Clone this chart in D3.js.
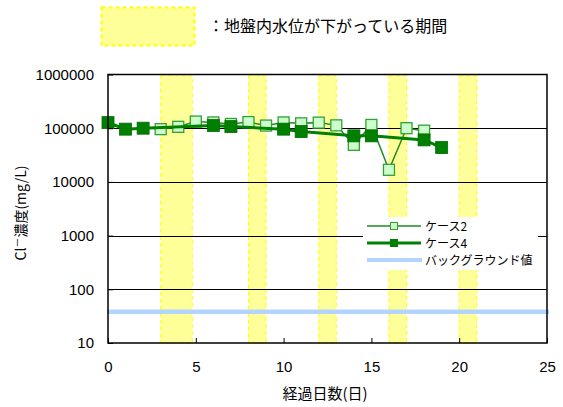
<!DOCTYPE html>
<html>
<head>
<meta charset="utf-8">
<script src="https://cdn.jsdelivr.net/npm/d3@7"></script>
<style>
  html, body { margin: 0; padding: 0; background: #fff; }
  svg { display: block; font-family: "Liberation Sans", "Noto Sans CJK JP", sans-serif; }
</style>
</head>
<body>
<svg id="chart" width="563" height="407"></svg>
<script>
// Periods when the ground water level is falling (days)
const periodStarts = [3, 8, 12, 16, 20];
const periodEnds = [4.8, 9, 13, 17, 21];

// Case 2 measurements
const case2Days = [3, 4, 5, 6, 7, 8, 9, 10, 11, 12, 13, 14, 15, 16, 17, 18];
const case2Values = [96000, 106000, 133000, 128000, 120000, 130000, 112000, 128000, 123000, 127000, 113000, 49000, 115000, 16800, 100000, 90000];

// Case 4 measurements
const case4Days = [0, 1, 2, 6, 7, 10, 11, 14, 15, 18, 19];
const case4Values = [127000, 96000, 100000, 112000, 107000, 96000, 86500, 72000, 72000, 60600, 43600];

// Background concentration
const backgroundValue = 38;

const xTicks = [0, 5, 10, 15, 20, 25];
const yTicks = [10, 100, 1000, 10000, 100000, 1000000];
const seriesNames = ["ケース2", "ケース4", "バックグラウンド値"];

const svg = d3.select("#chart");
const m = { left: 108, top: 74.5, right: 547, bottom: 343 };

const x = d3.scaleLinear().domain([0, 25]).range([m.left, m.right]);
const y = d3.scaleLog().domain([10, 1000000]).range([m.bottom, m.top]);

const jp = '"Noto Sans CJK JP", sans-serif';

// Top legend for the shaded periods
svg.append("rect")
  .attr("x", 101.5).attr("y", 7.5).attr("width", 93).attr("height", 38)
  .attr("fill", "#ffff99").attr("stroke", "#ffff00")
  .attr("stroke-width", 2).attr("stroke-dasharray", "4,3");
svg.append("text")
  .attr("x", 208).attr("y", 32)
  .attr("font-family", jp).attr("font-size", 16).attr("fill", "#000")
  .text("：地盤内水位が下がっている期間");

// Shaded periods
svg.append("g").selectAll("rect")
  .data(periodStarts.map((s, i) => [s, periodEnds[i]]))
  .join("rect")
  .attr("x", d => x(d[0]))
  .attr("y", m.top + 1)
  .attr("width", d => x(d[1]) - x(d[0]))
  .attr("height", m.bottom - m.top - 1)
  .attr("fill", "#ffff99")
  .attr("stroke", "#ffff00")
  .attr("stroke-width", 1)
  .attr("stroke-dasharray", "4,3");

// Horizontal gridlines
svg.append("g").selectAll("line")
  .data(yTicks.slice(1, -1))
  .join("line")
  .attr("x1", m.left).attr("x2", m.right)
  .attr("y1", d => Math.round(y(d)) + 0.5).attr("y2", d => Math.round(y(d)) + 0.5)
  .attr("stroke", "#000").attr("stroke-width", 1);

// Legend box background
const lg = { x: 363, y: 217, w: 175, h: 53 };
svg.append("rect")
  .attr("x", lg.x).attr("y", lg.y).attr("width", lg.w).attr("height", lg.h)
  .attr("fill", "#fff");

// Background value line
svg.append("line")
  .attr("x1", m.left - 1).attr("x2", m.right + 2)
  .attr("y1", y(backgroundValue)).attr("y2", y(backgroundValue))
  .attr("stroke", "#b3d4ff").attr("stroke-width", 4.5);

// Series
const case2 = case2Days.map((d, i) => [d, case2Values[i]]);
const case4 = case4Days.map((d, i) => [d, case4Values[i]]);
const line = d3.line().x(d => x(d[0])).y(d => y(d[1]));

svg.append("path").datum(case2).attr("d", line)
  .attr("fill", "none").attr("stroke", "#228b22").attr("stroke-width", 1.5);
svg.append("g").selectAll("rect")
  .data(case2).join("rect")
  .attr("x", d => x(d[0]) - 5.5).attr("y", d => y(d[1]) - 5.5)
  .attr("width", 11).attr("height", 11)
  .attr("fill", "#ccffcc").attr("stroke", "#33a033").attr("stroke-width", 1.3);

svg.append("path").datum(case4).attr("d", line)
  .attr("fill", "none").attr("stroke", "#008000").attr("stroke-width", 3);
svg.append("g").selectAll("rect")
  .data(case4).join("rect")
  .attr("x", d => x(d[0]) - 6).attr("y", d => y(d[1]) - 6)
  .attr("width", 12).attr("height", 12)
  .attr("fill", "#007f00").attr("stroke", "#006f00").attr("stroke-width", 0.8);

// Plot frame
svg.append("rect")
  .attr("x", m.left).attr("y", m.top)
  .attr("width", m.right - m.left).attr("height", m.bottom - m.top)
  .attr("fill", "none").attr("stroke", "#000").attr("stroke-width", 1.5);

// Axes with inward ticks
const xAxis = d3.axisBottom(x).tickValues(xTicks).tickSize(-5).tickPadding(18).tickFormat(d3.format("d"));
const gx = svg.append("g").attr("transform", `translate(0,${m.bottom})`).call(xAxis);
gx.select(".domain").remove();
gx.selectAll("line").attr("stroke", "#000");
gx.selectAll("text").attr("font-size", 15).attr("fill", "#000");

const yAxis = d3.axisLeft(y).tickValues(yTicks).tickSize(-5).tickPadding(14).tickFormat(d3.format("d"));
const gy = svg.append("g").attr("transform", `translate(${m.left},0)`).call(yAxis);
gy.select(".domain").remove();
gy.selectAll("line").attr("stroke", "#000");
gy.selectAll("text").attr("font-size", 15).attr("fill", "#000");

// Axis titles
svg.append("text")
  .attr("x", 325).attr("y", 399).attr("text-anchor", "middle")
  .attr("font-family", jp).attr("font-size", 15).attr("fill", "#000")
  .text("経過日数(日)");

const yt = svg.append("text")
  .attr("transform", "translate(26,213) rotate(-90)")
  .attr("text-anchor", "middle")
  .attr("font-family", jp).attr("font-size", 14).attr("fill", "#000");
yt.append("tspan").text("Cl");
yt.append("tspan").attr("dy", -5).attr("font-size", 10).text("－");
yt.append("tspan").attr("dy", 5).text("濃度(mg/L)");

// Legend entries
const rows = [lg.y + 9, lg.y + 26, lg.y + 43];
const lx1 = 367, lx2 = 421, lmid = 394;
svg.append("line").attr("x1", lx1).attr("x2", lx2).attr("y1", rows[0]).attr("y2", rows[0])
  .attr("stroke", "#228b22").attr("stroke-width", 1.5);
svg.append("rect").attr("x", lmid - 3.5).attr("y", rows[0] - 3.5).attr("width", 7).attr("height", 7)
  .attr("fill", "#ccffcc").attr("stroke", "#33a033").attr("stroke-width", 1);
svg.append("line").attr("x1", lx1).attr("x2", lx2).attr("y1", rows[1]).attr("y2", rows[1])
  .attr("stroke", "#008000").attr("stroke-width", 3);
svg.append("rect").attr("x", lmid - 4).attr("y", rows[1] - 4).attr("width", 8).attr("height", 8)
  .attr("fill", "#007f00");
svg.append("line").attr("x1", lx1).attr("x2", lx2 + 1).attr("y1", rows[2]).attr("y2", rows[2])
  .attr("stroke", "#b3d4ff").attr("stroke-width", 4);
svg.append("g").selectAll("text")
  .data(seriesNames).join("text")
  .attr("x", 425).attr("y", (d, i) => rows[i] + 4.5)
  .attr("font-family", jp).attr("font-size", 12).attr("fill", "#000")
  .text(d => d);
</script>
</body>
</html>
